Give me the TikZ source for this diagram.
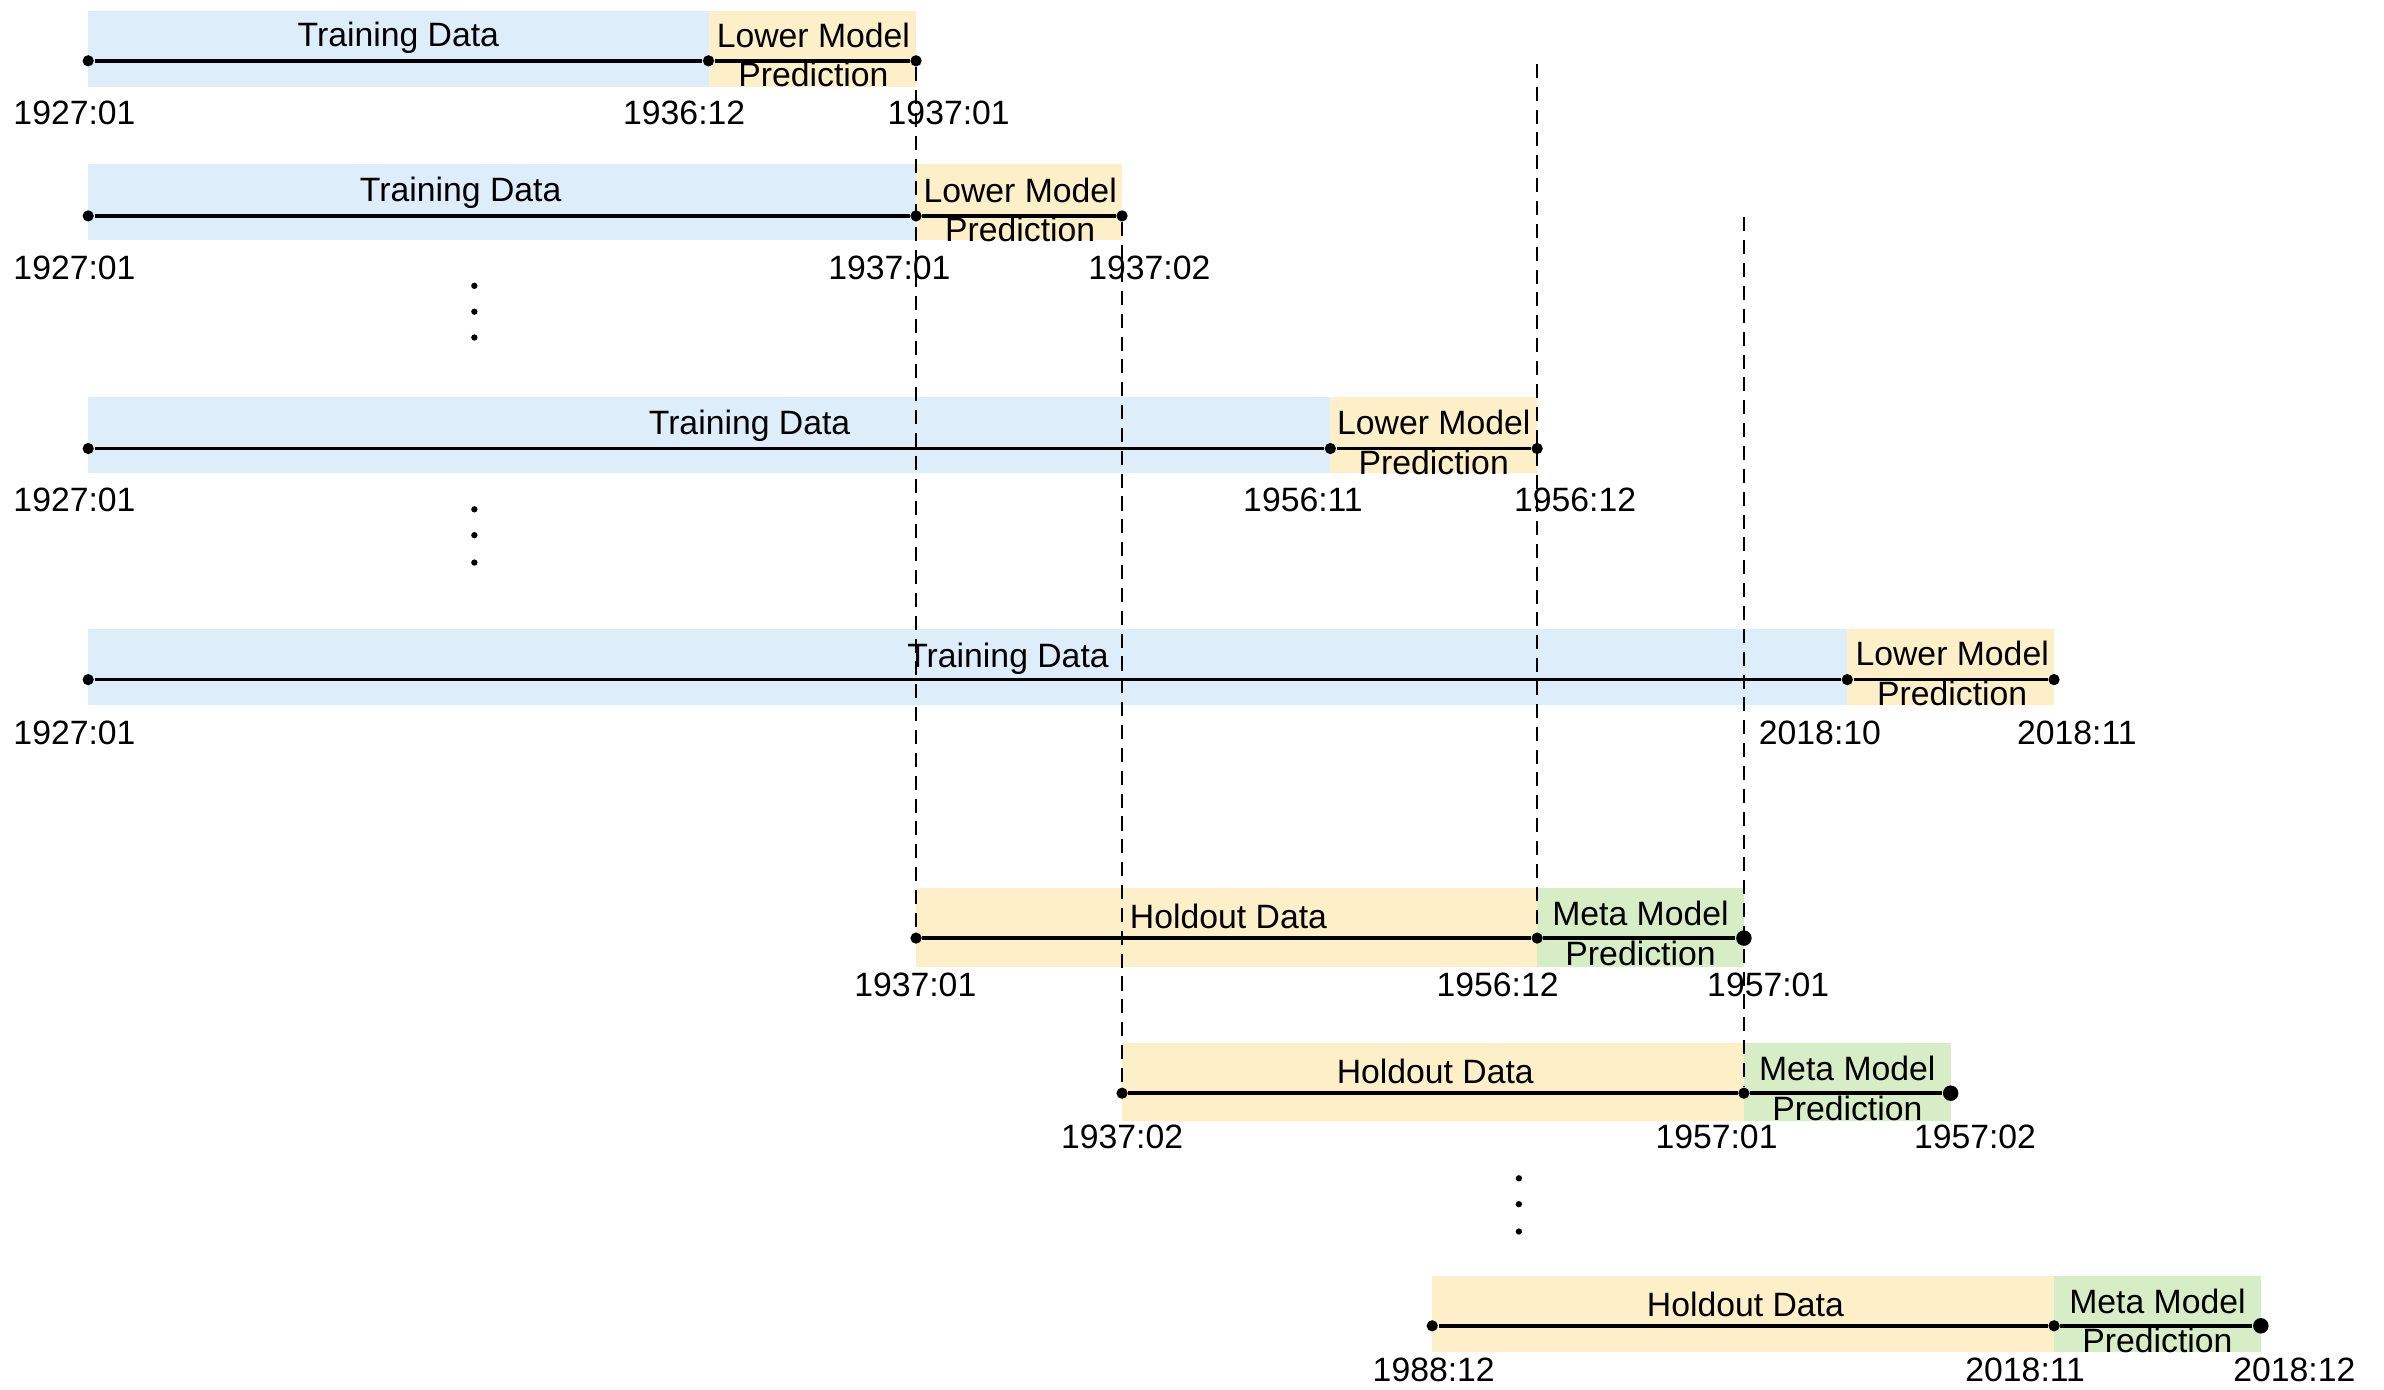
\documentclass[tikz,border=0pt]{standalone}
\usepackage{fontspec}
\setmainfont{Liberation Sans}

\definecolor{trainblue}{RGB}{222,237,250}
\definecolor{holdyellow}{RGB}{253,240,200}
\definecolor{metagreen}{RGB}{214,237,198}

\tikzset{
  every node/.style={font=\fontsize{9.6}{11.2}\selectfont, inner sep=0pt},
  dot/.style={circle, fill=black, minimum size=3.2pt},
  bigdot/.style={circle, fill=black, minimum size=4.4pt},
  vdot/.style={circle, fill=black, minimum size=1.8pt},
  twoline/.style={align=center},
  span/.style={line width=1pt},
  guide/.style={line width=0.5pt, dash pattern=on 4pt off 2.5pt},
}

\begin{document}
\begin{tikzpicture}[x=0.015204cm, y=-0.015204cm]
\useasboundingbox (0,0) rectangle (1568,914);

% bars
\fill[trainblue] (58,7) rectangle (466,57);
\fill[holdyellow] (466,7) rectangle (602.5,57);
\fill[trainblue] (58,108) rectangle (602.5,158);
\fill[holdyellow] (602.5,108) rectangle (738,158);
\fill[trainblue] (58,261) rectangle (875,311);
\fill[holdyellow] (875,261) rectangle (1011,311);
\fill[trainblue] (58,414) rectangle (1215,464);
\fill[holdyellow] (1215,414) rectangle (1351,464);
\fill[holdyellow] (602.5,584) rectangle (1011,636);
\fill[metagreen] (1011,584) rectangle (1147,636);
\fill[holdyellow] (738,686) rectangle (1147,737);
\fill[metagreen] (1147,686) rectangle (1283,737);
\fill[holdyellow] (942,839) rectangle (1351,889);
\fill[metagreen] (1351,839) rectangle (1487,889);

% training rows
\node[dot] (r1a) at (58,40) {};
\node[dot] (r1b) at (466,40) {};
\node[dot] (r1c) at (602.5,40) {};
\node (r1train) at (262,25) {Training Data};
\node[twoline] (r1pred) at (535,36) {Lower Model\\Prediction};
\node (r1d1) at (49,74) {1927:01};
\node (r1d2) at (450,74) {1936:12};
\node (r1d3) at (624,74) {1937:01};

\node[dot] (r2a) at (58,142) {};
\node[dot] (r2b) at (602.5,142) {};
\node[dot] (r2c) at (738,142) {};
\node (r2train) at (303,127) {Training Data};
\node[twoline] (r2pred) at (671,138) {Lower Model\\Prediction};
\node (r2d1) at (49,176) {1927:01};
\node (r2d2) at (585,176) {1937:01};
\node (r2d3) at (756,176) {1937:02};

\node[vdot] (v1) at (312,188) {};
\node[vdot] (v2) at (312,205) {};
\node[vdot] (v3) at (312,222) {};

\node[dot] (r3a) at (58,295) {};
\node[dot] (r3b) at (875,295) {};
\node[dot] (r3c) at (1011,295) {};
\node (r3train) at (493,280) {Training Data};
\node[twoline] (r3pred) at (943,291) {Lower Model\\Prediction};
\node (r3d1) at (49,329) {1927:01};
\node (r3d2) at (857,329) {1956:11};
\node (r3d3) at (1036,329) {1956:12};

\node[vdot] (v4) at (312,335) {};
\node[vdot] (v5) at (312,352) {};
\node[vdot] (v6) at (312,370) {};

\node[dot] (r4a) at (58,447) {};
\node[dot] (r4b) at (1215,447) {};
\node[dot] (r4c) at (1351,447) {};
\node (r4train) at (663,433) {Training Data};
\node[twoline] (r4pred) at (1284,443) {Lower Model\\Prediction};
\node (r4d1) at (49,482) {1927:01};
\node (r4d2) at (1197,482) {2018:10};
\node (r4d3) at (1366,482) {2018:11};

% holdout rows
\node[dot] (h1a) at (602.5,617) {};
\node[dot] (h1b) at (1011,617) {};
\node[bigdot] (h1c) at (1147,617) {};
\node (h1hold) at (808,603) {Holdout Data};
\node[twoline] (h1pred) at (1079,614) {Meta Model\\Prediction};
\node (h1d1) at (602,648) {1937:01};
\node (h1d2) at (985,648) {1956:12};
\node (h1d3) at (1163,648) {1957:01};

\node[dot] (h2a) at (738,719) {};
\node[dot] (h2b) at (1147,719) {};
\node[bigdot] (h2c) at (1283,719) {};
\node (h2hold) at (944,705) {Holdout Data};
\node[twoline] (h2pred) at (1215,716) {Meta Model\\Prediction};
\node (h2d1) at (738,748) {1937:02};
\node (h2d2) at (1129,748) {1957:01};
\node (h2d3) at (1299,748) {1957:02};

\node[vdot] (v7) at (999,775) {};
\node[vdot] (v8) at (999,792) {};
\node[vdot] (v9) at (999,810) {};

\node[dot] (h3a) at (942,872) {};
\node[dot] (h3b) at (1351,872) {};
\node[bigdot] (h3c) at (1487,872) {};
\node (h3hold) at (1148,858) {Holdout Data};
\node[twoline] (h3pred) at (1419,869) {Meta Model\\Prediction};
\node (h3d1) at (943,901) {1988:12};
\node (h3d2) at (1332,901) {2018:11};
\node (h3d3) at (1509,901) {2018:12};

\coordinate (g3top) at (1011,42);
\coordinate (g4top) at (1147,143);

% time lines
\path [span]
    (r1a) edge (r1b) (r1b) edge (r1c)
    (r2a) edge (r2b) (r2b) edge (r2c)
    (r3a) edge (r3b) (r3b) edge (r3c)
    (r4a) edge (r4b) (r4b) edge (r4c)
    (h1a) edge (h1b) (h1b) edge (h1c)
    (h2a) edge (h2b) (h2b) edge (h2c)
    (h3a) edge (h3b) (h3b) edge (h3c)
;

% guides
\path [guide]
    (r1c) edge (h1a)
    (r2c) edge (h2a)
    (g3top) edge (h1b)
    (g4top) edge (h2b)
;

\end{tikzpicture}
\end{document}
